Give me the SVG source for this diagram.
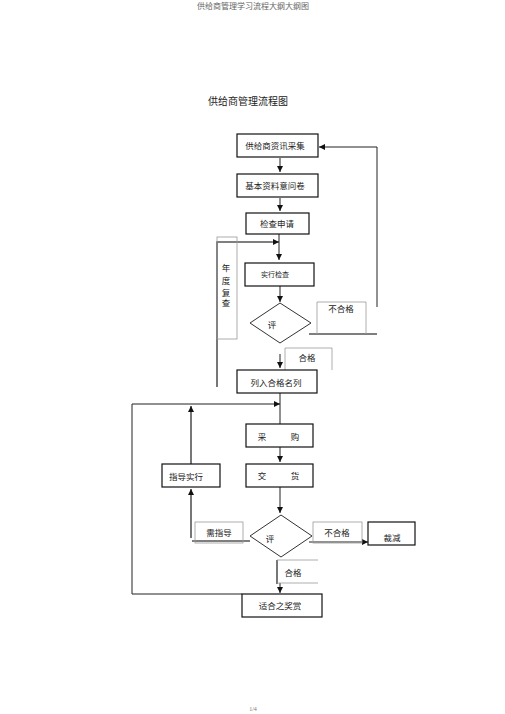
<svg xmlns="http://www.w3.org/2000/svg" width="505" height="714" viewBox="0 0 505 714">
<defs>
<style>
text{font-family:"Liberation Serif","Noto Sans CJK SC",serif;fill:#222;text-anchor:middle;dominant-baseline:central}
.box{fill:#fff;stroke:#111;stroke-width:1.2}
.lbl{fill:none;stroke:#999;stroke-width:0.8}
.ln{fill:none;stroke:#222;stroke-width:1}
.dk{fill:none;stroke:#555;stroke-width:1.6}
.dia{fill:#fff;stroke:#333;stroke-width:1}
.t{font-size:8.5px}
</style>
<marker id="ah" viewBox="0 0 10 10" refX="10" refY="5" markerWidth="6" markerHeight="6" orient="auto" markerUnits="userSpaceOnUse">
<path d="M0,0 L10,5 L0,10 z" fill="#111"/>
</marker>
</defs>
<rect width="505" height="714" fill="#fff"/>
<text x="253" y="6" style="font-size:8px;fill:#666">供给商管理学习流程大纲大纲图</text>
<text x="248" y="101" style="font-size:10px">供给商管理流程图</text>
<text x="253" y="709" style="font-size:6px;fill:#777">1/4</text>

<g id="connectors">
<line class="ln" x1="280" y1="158" x2="280" y2="172" marker-end="url(#ah)"/>
<line class="ln" x1="280" y1="198" x2="280" y2="211" marker-end="url(#ah)"/>
<line class="ln" x1="279" y1="234" x2="279" y2="260" marker-end="url(#ah)"/>
<polyline class="dk" points="217,387 217,242 272,242"/>
<line class="ln" x1="272" y1="242" x2="279" y2="242" marker-end="url(#ah)"/>
<line class="ln" x1="280" y1="286" x2="280" y2="302" marker-end="url(#ah)"/>
<line class="dk" x1="309" y1="334" x2="377" y2="334"/>
<polyline class="ln" points="377,307 377,147 319,147" marker-end="url(#ah)"/>
<line class="ln" x1="280" y1="354" x2="280" y2="368" marker-end="url(#ah)"/>
<line class="ln" x1="280" y1="393" x2="280" y2="424"/>
<polyline class="ln" points="132,594 132,404 280,404" marker-end="url(#ah)"/>
<line class="ln" x1="132" y1="594" x2="242" y2="594"/>
<line class="dk" x1="191" y1="464" x2="191" y2="406" marker-end="url(#ah)"/>
<line class="ln" x1="280" y1="447" x2="280" y2="462" marker-end="url(#ah)"/>
<line class="ln" x1="280" y1="487" x2="280" y2="513" marker-end="url(#ah)"/>
<line class="dk" x1="191" y1="538" x2="191" y2="489" marker-end="url(#ah)"/>
<line class="dk" x1="192" y1="541" x2="250" y2="541"/>
<line class="ln" x1="309" y1="542" x2="368" y2="542" marker-end="url(#ah)"/>
<line class="dk" x1="277" y1="560" x2="277" y2="584"/>
<line class="ln" x1="280" y1="583" x2="280" y2="593" marker-end="url(#ah)"/>
</g>

<g id="n1"><rect class="box" x="237" y="134" width="81" height="23"/><text class="t" x="275" y="146">供给商资讯采集</text></g>
<g id="n2"><rect class="box" x="237" y="174" width="81" height="23"/><text class="t" x="275" y="186">基本资料意问卷</text></g>
<g id="n3"><rect class="box" x="246" y="213" width="63" height="21"/><text class="t" x="277" y="224">检查申请</text></g>
<g id="n4"><rect class="lbl" x="217" y="237" width="20" height="102"/>
<text class="t" x="226" y="268">年</text><text class="t" x="226" y="281">度</text><text class="t" x="226" y="293">复</text><text class="t" x="226" y="303">查</text></g>
<g id="n5"><rect class="box" x="245" y="263" width="69" height="23"/><text x="275" y="275" style="font-size:7px">实行检查</text></g>
<g id="n6"><polygon class="dia" points="280,303 311,323 280,343 250,323"/><text class="t" x="272" y="325">评</text></g>
<g id="n7"><polyline class="lbl" points="317,334 317,302 366,302 366,334"/><text class="t" x="341" y="309">不合格</text></g>
<g id="n8"><polyline class="lbl" points="285,370 285,348 332,348 332,370"/><text class="t" x="307" y="358">合格</text></g>
<g id="n9"><rect class="box" x="237" y="370" width="80" height="23"/><text class="t" x="276" y="383">列入合格名列</text></g>
<g id="n10"><rect class="box" x="246" y="424" width="67" height="23"/><text class="t" x="279" y="437"><tspan x="262">采</tspan><tspan x="295">购</tspan></text></g>
<g id="n11"><rect class="box" x="246" y="464" width="67" height="23"/><text class="t" x="279" y="476"><tspan x="262">交</tspan><tspan x="295">货</tspan></text></g>
<g id="n12"><rect class="box" x="162" y="464" width="58" height="23"/><text class="t" x="186" y="477">指导实行</text></g>
<g id="n13"><polygon class="dia" points="281,515 312,536 281,557 250,536"/><text class="t" x="270" y="539">评</text></g>
<g id="n14"><rect class="lbl" x="195" y="522" width="48" height="21"/><text class="t" x="219" y="533">需指导</text></g>
<g id="n15"><rect class="lbl" x="313" y="522" width="49" height="21"/><text class="t" x="337" y="533">不合格</text></g>
<g id="n16"><rect class="box" x="368" y="522" width="47" height="23"/><text class="t" x="392" y="538">裁减</text></g>
<g id="n17"><polyline class="lbl" points="318,560 277,560"/><polyline class="lbl" points="277,583 318,583"/><text class="t" x="293" y="573">合格</text></g>
<g id="n18"><rect class="box" x="242" y="594" width="80" height="23"/><text class="t" x="280" y="606">适合之奖赏</text></g>
</svg>
